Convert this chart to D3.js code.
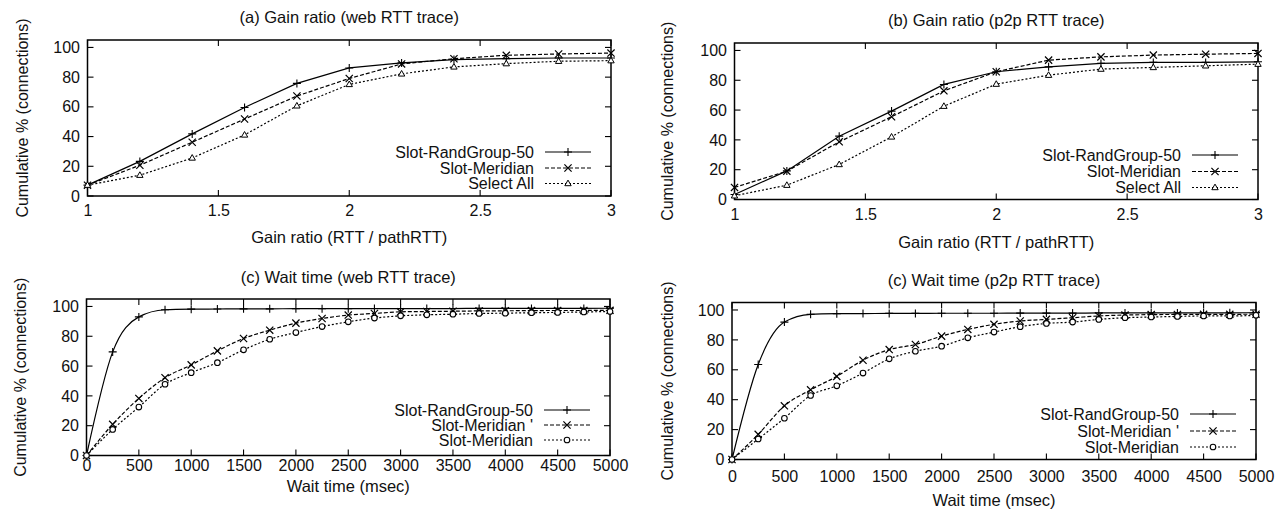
<!DOCTYPE html>
<html>
<head>
<meta charset="utf-8">
<script src="https://cdn.jsdelivr.net/npm/d3@7"></script>
<style>
  html, body { margin: 0; padding: 0; background: #fff; }
  svg text { font-family: "Liberation Sans", Arial, Helvetica, sans-serif; font-size: 16px; fill: #111; }
</style>
</head>
<body>
<svg id="chart" width="1276" height="509"></svg>
<script>
// ---------- data ----------
const gainX = [1, 1.2, 1.4, 1.6, 1.8, 2.0, 2.2, 2.4, 2.6, 2.8, 3.0];
const gainTicks = [1, 1.5, 2, 2.5, 3];
const gainTickLabels = ["1", "1.5", "2", "2.5", "3"];

const webRandGroup = [7.3, 23.3, 41.8, 59.6, 75.8, 86.2, 89.6, 91.8, 92.4, 92.9, 92.9];
const webMeridian  = [7.3, 20.7, 36.2, 51.8, 67.3, 79.1, 88.9, 92.4, 94.7, 95.6, 96.2];
const webSelectAll = [7.3, 14.0, 25.6, 41.1, 60.7, 75.1, 82.2, 86.9, 89.1, 90.7, 91.1];

const p2pRandGroup = [3.4, 19.2, 42.5, 59.3, 77.2, 85.7, 89.0, 91.3, 92.0, 92.0, 92.4];
const p2pMeridian  = [8.1, 19.0, 38.7, 55.5, 72.9, 85.7, 93.5, 95.7, 96.9, 97.5, 98.0];
const p2pSelectAll = [2.5, 9.6, 23.5, 42.0, 62.6, 77.4, 83.4, 87.5, 88.6, 89.7, 90.8];

const waitX = [0, 250, 500, 750, 1000, 1250, 1500, 1750, 2000, 2250, 2500, 2750, 3000, 3250, 3500, 3750, 4000, 4250, 4500, 4750, 5000];
const waitTicks = [0, 500, 1000, 1500, 2000, 2500, 3000, 3500, 4000, 4500, 5000];

const webWaitRandGroup = [0, 69.5, 93.0, 97.8, 98.2, 98.3, 98.4, 98.4, 98.5, 98.5, 98.5, 98.6, 98.6, 98.6, 98.6, 98.7, 98.7, 98.7, 98.7, 98.7, 98.8];
const webWaitMeridianP = [0, 20.9, 38.3, 52.2, 60.8, 70.2, 78.5, 84.1, 88.8, 91.9, 94.2, 95.3, 96.4, 96.6, 96.8, 97.0, 97.1, 97.2, 97.3, 97.3, 97.4];
const webWaitMeridian  = [0, 17.5, 32.5, 47.8, 55.6, 62.3, 70.9, 78.0, 82.5, 86.5, 89.7, 92.2, 93.7, 94.4, 94.8, 95.3, 95.5, 95.8, 96.0, 96.3, 96.6];

const p2pWaitRandGroup = [0, 63.5, 91.9, 97.1, 97.5, 97.6, 97.7, 97.7, 97.8, 97.8, 97.8, 97.9, 97.9, 97.9, 98.0, 98.0, 98.0, 98.0, 98.1, 98.1, 98.2];
const p2pWaitMeridianP = [0, 16.8, 35.9, 46.6, 55.6, 66.4, 73.5, 76.9, 82.5, 87.0, 90.4, 92.6, 93.7, 94.8, 96.0, 96.6, 96.9, 97.0, 97.1, 97.1, 97.2];
const p2pWaitMeridian  = [0, 13.7, 27.6, 42.8, 49.3, 57.8, 67.3, 72.4, 75.8, 81.4, 85.2, 88.8, 91.0, 91.9, 93.7, 94.8, 95.3, 95.7, 96.0, 96.0, 96.4];

const yTicks = [0, 20, 40, 60, 80, 100];
const yLabel = "Cumulative % (connections)";

const titles = ["(a) Gain ratio (web RTT trace)", "(b) Gain ratio (p2p RTT trace)", "(c) Wait time (web RTT trace)", "(c) Wait time (p2p RTT trace)"];
const xLabels = ["Gain ratio (RTT / pathRTT)", "Gain ratio (RTT / pathRTT)", "Wait time (msec)", "Wait time (msec)"];
const gainLegend = ["Slot-RandGroup-50", "Slot-Meridian", "Select All"];
const waitLegend = ["Slot-RandGroup-50", "Slot-Meridian '", "Slot-Meridian"];

// ---------- layout ----------
const svg = d3.select("#chart");
const panels = [
  { box: {l: 87.5, r: 611, t: 40, b: 196}, x: gainX, xDomain: [1, 3], ticks: gainTicks, tickLabels: gainTickLabels,
    series: [webRandGroup, webMeridian, webSelectAll], legend: gainLegend, markers: ["plus", "cross", "tri"], curve: d3.curveLinear,
    title: titles[0], xlabel: xLabels[0], titleY: 17, xlabY: 237, ylabX: 22, xPad: 9, legY: [152, 168, 183.5] },
  { box: {l: 734.5, r: 1258, t: 43, b: 199.5}, x: gainX, xDomain: [1, 3], ticks: gainTicks, tickLabels: gainTickLabels,
    series: [p2pRandGroup, p2pMeridian, p2pSelectAll], legend: gainLegend, markers: ["plus", "cross", "tri"], curve: d3.curveLinear,
    title: titles[1], xlabel: xLabels[1], titleY: 20, xlabY: 242, ylabX: 667, xPad: 9, legY: [155, 171.5, 187.5] },
  { box: {l: 86.5, r: 610, t: 299, b: 455.5}, x: waitX, xDomain: [0, 5000], ticks: waitTicks, tickLabels: waitTicks.map(String),
    series: [webWaitRandGroup, webWaitMeridianP, webWaitMeridian], legend: waitLegend, markers: ["plus", "cross", "circ"], curve: d3.curveMonotoneX,
    title: titles[2], xlabel: xLabels[2], titleY: 277, xlabY: 486, ylabX: 20, xPad: 4, legY: [410, 425, 440] },
  { box: {l: 732, r: 1256, t: 302.5, b: 459.5}, x: waitX, xDomain: [0, 5000], ticks: waitTicks, tickLabels: waitTicks.map(String),
    series: [p2pWaitRandGroup, p2pWaitMeridianP, p2pWaitMeridian], legend: waitLegend, markers: ["plus", "cross", "circ"], curve: d3.curveMonotoneX,
    title: titles[3], xlabel: xLabels[3], titleY: 280, xlabY: 500, ylabX: 667, xPad: 11, legY: [414, 431, 447] }
];

const dashes = [null, "4,2", "2,2"];

function drawMarker(g, type, cx, cy) {
  if (type === "plus") {
    g.append("path").attr("d", `M${cx-4},${cy}H${cx+4}M${cx},${cy-4}V${cy+4}`)
      .attr("stroke", "#000").attr("stroke-width", 1.1).attr("fill", "none");
  } else if (type === "cross") {
    g.append("path").attr("d", `M${cx-3.6},${cy-3.6}L${cx+3.6},${cy+3.6}M${cx-3.6},${cy+3.6}L${cx+3.6},${cy-3.6}`)
      .attr("stroke", "#000").attr("stroke-width", 1.2).attr("fill", "none");
  } else if (type === "tri") {
    g.append("path").attr("d", `M${cx},${cy-3.4}L${cx+3.2},${cy+2.2}L${cx-3.2},${cy+2.2}Z`)
      .attr("stroke", "#000").attr("stroke-width", 1).attr("fill", "#fff");
  } else if (type === "circ") {
    g.append("circle").attr("cx", cx).attr("cy", cy).attr("r", 2.8)
      .attr("stroke", "#000").attr("stroke-width", 1.1).attr("fill", "#fff");
  }
}

panels.forEach(p => {
  const {l, r, t, b} = p.box;
  const x = d3.scaleLinear().domain(p.xDomain).range([l, r]);
  const y = d3.scaleLinear().domain([0, 105]).range([b, t]);
  const g = svg.append("g");

  // title
  g.append("text").attr("x", (l + r) / 2).attr("y", p.titleY).attr("dy", "0.35em")
    .attr("text-anchor", "middle").style("font-size", "16.5px").text(p.title);

  // axes (labels via d3 axes, ticks drawn inside)
  const yAxis = d3.axisLeft(y).tickValues(yTicks).tickSize(0).tickPadding(7.5);
  const ya = g.append("g").attr("transform", `translate(${l},0)`).call(yAxis);
  ya.select(".domain").remove();
  ya.selectAll("text").style("font-size", "16px").attr("fill", "#111");

  const xAxis = d3.axisBottom(x).tickValues(p.ticks).tickFormat((d, i) => p.tickLabels[i]).tickSize(0).tickPadding(p.xPad);
  const xa = g.append("g").attr("transform", `translate(0,${b})`).call(xAxis);
  xa.select(".domain").remove();
  xa.selectAll("text").style("font-size", "16px").attr("fill", "#111");

  // inner ticks on all four sides
  const tl = 6;
  yTicks.forEach(v => {
    g.append("line").attr("x1", l).attr("x2", l + tl).attr("y1", y(v)).attr("y2", y(v)).attr("stroke", "#000").attr("stroke-width", 1.1);
    g.append("line").attr("x1", r).attr("x2", r - tl).attr("y1", y(v)).attr("y2", y(v)).attr("stroke", "#000").attr("stroke-width", 1.1);
  });
  p.ticks.forEach(v => {
    g.append("line").attr("x1", x(v)).attr("x2", x(v)).attr("y1", b).attr("y2", b - tl).attr("stroke", "#000").attr("stroke-width", 1.1);
    g.append("line").attr("x1", x(v)).attr("x2", x(v)).attr("y1", t).attr("y2", t + tl).attr("stroke", "#000").attr("stroke-width", 1.1);
  });

  // frame
  g.append("rect").attr("x", l).attr("y", t).attr("width", r - l).attr("height", b - t)
    .attr("fill", "none").attr("stroke", "#000").attr("stroke-width", 1.5);

  // axis labels
  g.append("text").attr("x", (l + r) / 2).attr("y", p.xlabY).attr("dy", "0.35em")
    .attr("text-anchor", "middle").style("font-size", "16.5px").text(p.xlabel);
  g.append("text").attr("transform", `translate(${p.ylabX},${(t + b) / 2}) rotate(-90)`)
    .attr("dy", "0.35em").attr("text-anchor", "middle").text(yLabel);

  // series
  p.series.forEach((vals, si) => {
    const pts = p.x.map((xv, i) => [xv, vals[i]]);
    const line = d3.line().x(d => x(d[0])).y(d => y(d[1])).curve(p.curve);
    const path = g.append("path").attr("d", line(pts)).attr("fill", "none")
      .attr("stroke", "#000").attr("stroke-width", 1.2);
    if (dashes[si]) path.attr("stroke-dasharray", dashes[si]);
    pts.forEach(d => drawMarker(g, p.markers[si], x(d[0]), y(d[1])));
  });

  // legend
  const textRight = r - 77;
  const s0 = r - 66, s1 = r - 20;
  p.legend.forEach((name, si) => {
    const ry = p.legY[si];
    g.append("text").attr("x", textRight).attr("y", ry).attr("dy", "0.35em")
      .attr("text-anchor", "end").text(name);
    const ln = g.append("line").attr("x1", s0).attr("x2", s1).attr("y1", ry).attr("y2", ry)
      .attr("stroke", "#000").attr("stroke-width", 1.2);
    if (dashes[si]) ln.attr("stroke-dasharray", dashes[si]);
    drawMarker(g, p.markers[si], (s0 + s1) / 2, ry);
  });
});
</script>
</body>
</html>
